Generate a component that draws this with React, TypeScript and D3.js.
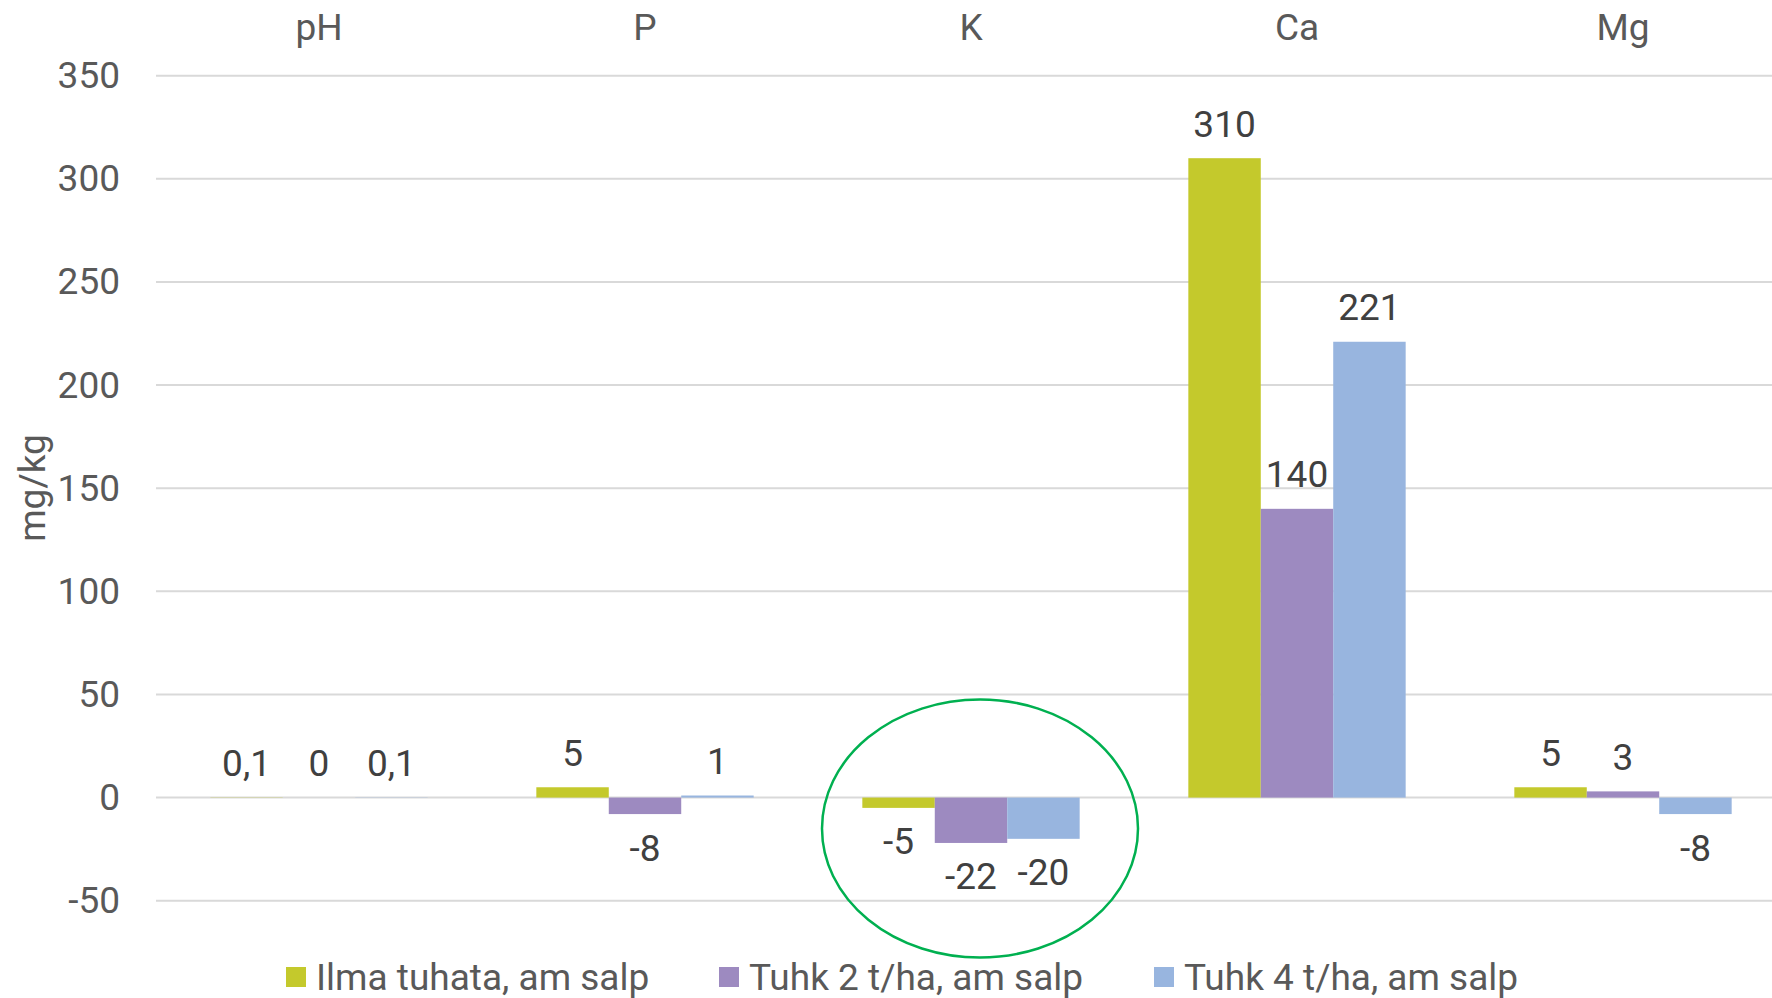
import React from 'react';
import * as d3 from 'd3';

const categories = ['pH', 'P', 'K', 'Ca', 'Mg'];
const seriesNames = ['Ilma tuhata, am salp', 'Tuhk 2 t/ha, am salp', 'Tuhk 4 t/ha, am salp'];
const ilmaTuhata = [0.1, 5, -5, 310, 5];
const tuhk2 = [0, -8, -22, 140, 3];
const tuhk4 = [0.1, 1, -20, 221, -8];
const yTicks = [-50, 0, 50, 100, 150, 200, 250, 300, 350];
const colors = ['#C4C92C', '#9D8AC0', '#98B5DF'];

const W = 1772;
const H = 998;
const FONT = 'Roboto, "Noto Sans", sans-serif';

export default function App() {
  const series = [ilmaTuhata, tuhk2, tuhk4];

  const x = d3.scaleBand<string>().domain(categories).range([156, 1786]).padding(0);
  const xs = d3
    .scaleBand<string>()
    .domain(seriesNames)
    .range([0, x.bandwidth()])
    .paddingInner(0)
    .paddingOuter(0.75);
  const y = d3.scaleLinear().domain([-50, 350]).range([900.7, 75.7]);

  const fmt = (v: number) => String(v).replace('.', ',');

  // legend positions
  const legendX = [286, 719, 1154];

  return (
    <svg
      width={W}
      height={H}
      style={{ position: 'absolute', left: 0, top: 0, background: '#fff' }}
      fontFamily={FONT}
    >
      {/* grid */}
      {yTicks.map((t) => (
        <g key={t}>
          <line x1={156} x2={W} y1={y(t)} y2={y(t)} stroke="#D9D9D9" strokeWidth={2} />
          <text
            x={120}
            y={y(t)}
            textAnchor="end"
            dominantBaseline="central"
            fontSize={37}
            fill="#595959"
          >
            {t}
          </text>
        </g>
      ))}

      {/* category labels on top */}
      {categories.map((c) => (
        <text
          key={c}
          x={(x(c) ?? 0) + x.bandwidth() / 2}
          y={40}
          textAnchor="middle"
          fontSize={37}
          fill="#595959"
        >
          {c}
        </text>
      ))}

      {/* bars */}
      {series.map((vals, si) =>
        vals.map((v, ci) => {
          const bx = (x(categories[ci]) ?? 0) + (xs(seriesNames[si]) ?? 0);
          const y0 = y(0);
          const y1 = y(v);
          return (
            <rect
              key={`${si}-${ci}`}
              x={bx}
              width={xs.bandwidth()}
              y={Math.min(y0, y1)}
              height={Math.max(Math.abs(y1 - y0), 0)}
              fill={colors[si]}
            />
          );
        })
      )}

      {/* data labels */}
      {series.map((vals, si) =>
        vals.map((v, ci) => {
          const cx = (x(categories[ci]) ?? 0) + (xs(seriesNames[si]) ?? 0) + xs.bandwidth() / 2;
          const yy = v >= 0 ? y(v) - 34 : y(v) + 34;
          return (
            <text
              key={`l-${si}-${ci}`}
              x={cx}
              y={yy}
              textAnchor="middle"
              dominantBaseline="central"
              fontSize={37}
              fill="#404040"
            >
              {fmt(v)}
            </text>
          );
        })
      )}

      {/* annotation ellipse around K */}
      <ellipse
        cx={(x('K') ?? 0) + x.bandwidth() / 2 + 9}
        cy={y(-15)}
        rx={158}
        ry={129}
        fill="none"
        stroke="#00B050"
        strokeWidth={2.5}
      />

      {/* y-axis title */}
      <text
        transform={`translate(32,488) rotate(-90)`}
        textAnchor="middle"
        dominantBaseline="central"
        fontSize={37}
        fill="#595959"
      >
        mg/kg
      </text>

      {/* legend */}
      {seriesNames.map((n, i) => (
        <g key={n} transform={`translate(${legendX[i]},977)`}>
          <rect x={0} y={-10} width={20} height={20} fill={colors[i]} />
          <text x={30} y={0} dominantBaseline="central" fontSize={37} fill="#595959">
            {n}
          </text>
        </g>
      ))}
    </svg>
  );
}
